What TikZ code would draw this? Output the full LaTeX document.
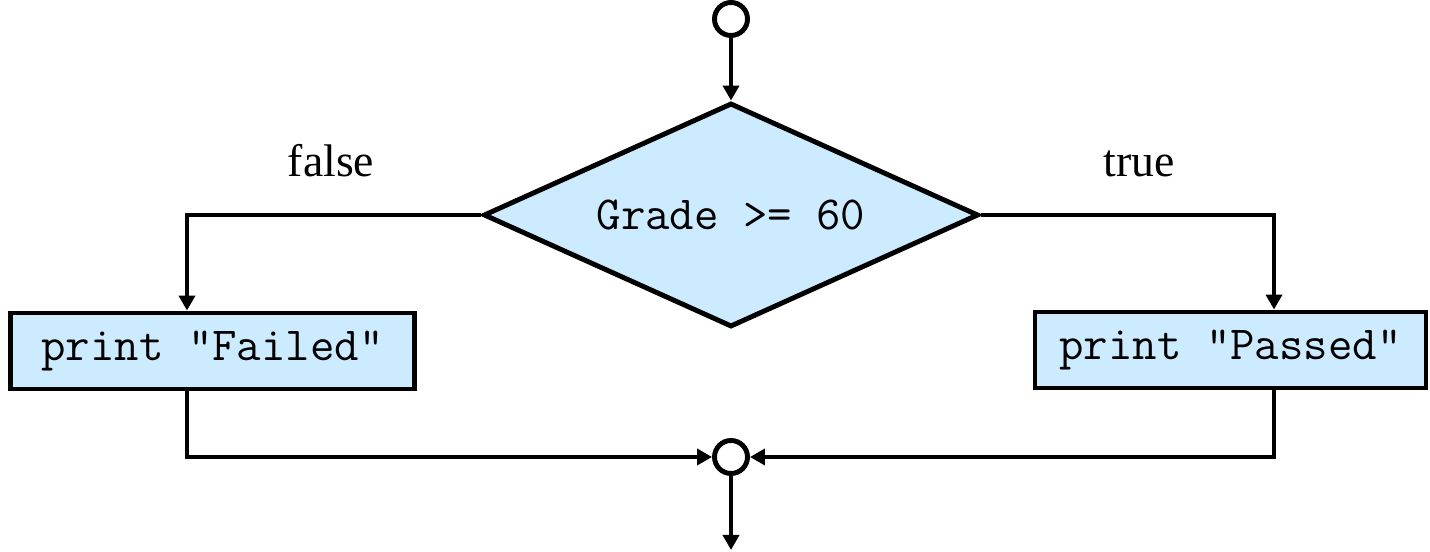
\documentclass[tikz,border=0pt]{standalone}
\usepackage{fontspec}
\setmainfont{Liberation Serif}
\usetikzlibrary{arrows.meta,shapes.geometric}
\definecolor{fcblue}{HTML}{CCEBFF}
\begin{document}
\begin{tikzpicture}[
  line width=2.8pt,
  dec/.style={diamond, aspect=2.2, draw, fill=fcblue, inner sep=0pt,
    minimum width=9.9cm, minimum height=4.48cm, font=\ttfamily\fontsize{27}{31}\selectfont},
  act/.style={rectangle, draw, fill=fcblue, minimum height=1.52cm,
    font=\ttfamily\fontsize{27}{31}\selectfont},
  conn/.style={circle, draw, fill=white, minimum size=0.66cm, inner sep=0pt},
  arr/.style={-{Triangle[length=0.3cm,width=0.32cm]}},
  lab/.style={font=\fontsize{26}{30}\selectfont, anchor=base}]
\useasboundingbox (0,0) rectangle (28.6,-11.04);
\node[conn] (start) at (14.62,-0.38) {};
\node[dec] (grade) at (14.62,-4.3) {Grade >= 60};
\node[act, minimum width=8.08cm] (fail) at (4.25,-7.02) {print “Failed”};
\node[act, minimum width=7.82cm] (pass) at (24.61,-7.0) {print “Passed”};
\node[conn] (join) at (14.62,-9.14) {};
\node[lab] (flab) at (6.62,-3.54) {false};
\node[lab] (tlab) at (22.78,-3.54) {true};
\coordinate (lcol) at (3.74,0);
\coordinate (rcol) at (25.48,0);
\coordinate (out) at (14.62,-11.0);
\draw[arr] (start) -- (grade.north);
\draw[arr] (grade.west) -| (lcol |- fail.north);
\draw[arr] (grade.east) -| (rcol |- pass.north);
\draw[arr] (lcol |- fail.south) |- (join.west);
\draw[arr] (rcol |- pass.south) |- (join.east);
\draw[arr] (join) -- (out);
\end{tikzpicture}
\end{document}
